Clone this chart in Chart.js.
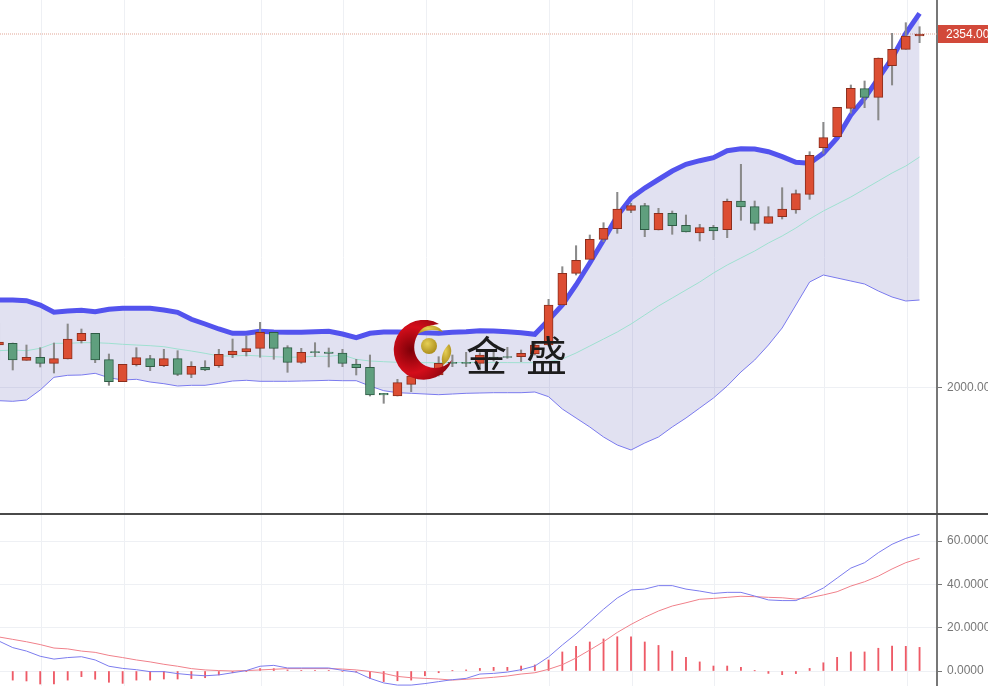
<!DOCTYPE html>
<html>
<head>
<meta charset="utf-8">
<title>K线</title>
<script src="https://cdn.jsdelivr.net/npm/chart.js@4"></script>
<style>
html,body{margin:0;padding:0;background:#fff;overflow:hidden}
#wrap{position:relative;width:988px;height:686px;overflow:hidden;filter:blur(.4px)}
canvas{position:absolute;left:0}
#price{top:0}
#macd{top:515px}
#line{position:absolute;left:0;top:513px;width:988px;height:2px;background:#4a4a4a}
#logo{position:absolute;left:393px;top:320px}
.word{position:absolute;top:329px;font:400 41px "Noto Sans CJK SC";line-height:48px;color:#1c1c1c}
</style>
</head>
<body>
<div id="wrap">
<canvas id="price" width="988" height="515"></canvas>
<canvas id="macd" width="988" height="171"></canvas>
<div id="line"></div>
<svg id="logo" width="60" height="60" viewBox="0 0 60 60">
<defs>
<radialGradient id="red" cx="30%" cy="50%" r="70%">
<stop offset="0" stop-color="#7d0008"/><stop offset=".55" stop-color="#d40d1a"/><stop offset="1" stop-color="#8e0610"/>
</radialGradient>
<radialGradient id="gold" cx="40%" cy="35%" r="70%">
<stop offset="0" stop-color="#e6cf55"/><stop offset="1" stop-color="#a98a18"/>
</radialGradient>
</defs>
<path d="M46,4 A30,30 0 1 0 59,40 C52,48 42,50 33,46 C22,41 18,28 24,16 C28,8 37,5 46,4 Z" fill="url(#red)"/>
<path d="M25,14 C31,3 44,3 50,12 C42,9 33,9 25,14 Z" fill="url(#gold)"/>
<path d="M56,24 C61,31 57,41 50,45 C47,38 50,30 56,24 Z" fill="url(#gold)"/>
<circle cx="36" cy="26" r="8" fill="url(#gold)"/>
</svg>
<div class="word" style="left:466px">金</div>
<div class="word" style="left:526px">盛</div>
</div>
<script>
var opens = [2043,2044.7,2027.7,2030.7,2024.7,2029,2047.3,2054.7,2028.3,2006.3,2023.3,2029.3,2022.3,2029.3,2013.7,2020.7,2022.3,2033.3,2036.3,2039.7,2055.7,2040.3,2025.7,2036.3,2036,2035,2024,2020.7,1994.7,1992,2003.7,2012,2013,2025.7,2025.7,2024.7,2031,2031.5,2031.3,2034,2043,2083,2114.7,2128.7,2148.7,2159.3,2177.7,2182.3,2158,2174.7,2162.7,2155,2160.7,2158.3,2187,2181.3,2164.7,2171.3,2178,2193.7,2240.3,2251.3,2279.7,2299.3,2290.7,2322.3,2338.7,2352];
var closes = [2046,2028,2030.7,2024.7,2029.3,2049,2054.7,2028,2006.3,2023.7,2030.3,2021.3,2029.3,2013.7,2021.7,2018,2033.7,2037,2039.3,2055.7,2039.7,2025.7,2035.7,2035.3,2034.7,2024.7,2020.3,1993,1993,2005.3,2012,2013,2024.7,2024.7,2024.7,2033,2030,2030.5,2034.7,2043,2083,2114.7,2127.7,2148.7,2159.7,2179,2182.3,2158.3,2174.7,2162.3,2156,2160.3,2157,2186.7,2181,2164.7,2171.3,2179,2194.3,2232.7,2250.3,2280.7,2299.7,2290.7,2330,2338.7,2352,2354];
var highs = [2065,2045,2043,2040.3,2045,2064,2059,2054.7,2034,2023.7,2040.3,2032.7,2038.7,2037.3,2026.3,2027.3,2038.7,2049,2052,2065.7,2055.7,2042.3,2039.7,2045.3,2040,2038.7,2028.7,2033,1994.7,2008.7,2015,2018,2031.3,2033,2035.7,2035.3,2036,2040.7,2038,2046,2088.7,2121.3,2142.3,2153,2165.3,2195.7,2184.7,2184.7,2179.7,2177,2173,2163.7,2162.7,2189,2223.7,2187,2181.3,2200.3,2198,2236.3,2265.7,2280.7,2303,2307,2330,2354.7,2365.3,2361.3];
var lows = [2028,2018,2027.7,2021,2015,2029,2045,2025.3,2002.7,2006.3,2022,2017.3,2021.3,2012.3,2010.3,2017.3,2020.7,2030.3,2032,2030.7,2028.7,2015.7,2024.7,2031.3,2021,2021.3,2013,1992,1984.7,1992,1996.3,2010,2012,2021.3,2021.3,2018,2027,2029.7,2026.3,2033,2042,2083,2113,2128.7,2146.3,2154.7,2175.3,2151.3,2158,2153.7,2156,2147,2148.3,2150.3,2167.7,2158,2164.7,2169,2174.7,2188.7,2234.7,2251.3,2274.7,2280.3,2268,2303,2338.7,2345.3];

var upperBand = [2088,2088,2087.3,2083,2075.7,2077,2077.7,2076.3,2078.7,2079.7,2079.7,2079.7,2078,2075.7,2068.7,2064,2059,2054.7,2054.7,2056.7,2056,2055.7,2055.7,2056.3,2056.7,2054,2050.3,2054.7,2056,2056,2055.7,2055.3,2054.7,2055.7,2056.3,2057.3,2057,2056.3,2055.3,2053.7,2068,2083,2103,2125,2148,2172,2190,2200,2208.5,2217,2223.7,2227.3,2230.3,2237.3,2239.3,2239,2236.3,2231.3,2225.7,2224.7,2234.7,2250,2273,2289.7,2309.7,2329.7,2354.7,2374.7];
var midBand = [2037.3,2038,2037.3,2039.7,2044.7,2044.7,2045.3,2045.3,2044.7,2043.7,2043,2042.3,2041.3,2039,2037,2034.7,2032,2032,2032.7,2032,2031.3,2030.7,2031,2031.7,2031.7,2033,2028.7,2027,2026.3,2025.7,2025.3,2025.3,2025.3,2025.5,2025.5,2025.5,2025.5,2025.4,2025.3,2025.3,2026.3,2029,2035,2042,2049,2056,2064,2073,2082,2090,2098,2106,2115,2123,2130,2137,2145,2152,2160,2169,2177,2184,2191,2199,2207,2215,2222,2231];
var lowerBand = [1987.3,1986.7,1988,1998,2010.7,2012.7,2013,2014.7,2010.3,2008,2008.7,2006,2004.3,2002,2002.7,2002.7,2004.7,2007,2007.7,2006.7,2006.7,2006.7,2007,2007.3,2007.7,2007.3,2007.3,2002,1997.3,1995.3,1994.7,1994,1993.3,1994,1994.7,1995,1995.3,1995.3,1995.3,1996,1991.3,1979,1970,1961,1951,1943,1938,1945,1951,1961,1970,1980,1990,2002,2016,2028,2043,2060,2083,2106,2113,2110,2107,2104,2097,2091,2087,2088];

var dif = [13.8,10.8,9.2,6.8,5.5,6.2,6.6,5.1,2.2,1.2,0.6,-0.3,-0.3,-1.2,-1.8,-2.2,-1.8,-0.8,0.2,2.2,2.6,1.4,1.4,1.4,1.4,0.3,-0.5,-3.4,-5.5,-6.5,-6.5,-5.8,-4.9,-4,-3.4,-1.4,-1.1,-0.5,0.6,2.3,6.5,12,17.1,22.8,28.5,33.7,37.4,37.8,39.4,39.4,37.8,36.9,35.8,36.3,36.3,34.6,32.8,32.5,32.5,35.2,38.3,42.9,47.5,50,54.6,58.5,61.2,63.1];
var dea = [15.7,14.6,13.5,12.2,10.6,10.2,9.2,8.6,7.2,6.2,5.1,4.2,3.1,2.2,1.1,0.5,0.2,0,0.2,0.5,0.8,1.1,1.1,1.1,1.1,0.9,0.5,-0.2,-1.1,-2.5,-3.1,-3.4,-3.7,-4.2,-3.8,-3.4,-2.9,-2.3,-1.4,-0.8,0.8,2.9,6,9.7,13.5,17.8,21.5,24.8,27.7,30,31.5,33.1,33.5,34,34.5,34.3,34,33.8,33.2,33.8,35.1,36.6,39.2,41.2,43.8,47.1,50,52];
var hist = [-2.3,-4.2,-4.6,-6,-6,-4.2,-2.6,-3.8,-5.2,-5.7,-4.2,-4.2,-3.7,-3.7,-3.5,-3.1,-1.8,-0.8,-0.3,1.1,1.1,0.5,0.3,0.3,0.3,-0.2,-0.5,-3.4,-4.9,-4.5,-4.2,-2.2,-0.8,0.1,0.5,1.2,1.7,1.7,2.3,2.8,5.1,8.8,11.4,13.4,14.8,15.8,15.8,13.4,11.8,9.2,6.3,4.2,2.3,2.3,1.7,0.1,-1.1,-1.7,-1.2,1.2,3.8,6.3,8.8,8.8,10.5,11.5,11.4,10.9];

var lastPrice = 2354;
var priceTicks = [2000];
var macdTicks = [60, 40, 20, 0];
var gridIndexes = [3.1, 9.1, 19.1, 25.1, 31.1, 40.1, 46.1, 52.1, 60.1, 66.1];

var xMin = 0.073, xMax = 68.27;
var axisColor = '#777', gridColor = '#eef0f4';

Chart.defaults.font.family = 'Arial, "Liberation Sans", sans-serif';
Chart.defaults.font.size = 12;

function pts(arr) {
    return arr.map(function (v, i) { return {x: i, y: v}; });
}
function pairs(a, b) {
    return a.map(function (v, i) { return {x: i, y: [v, b[i]]}; });
}
function noPadding(a) {
    a.paddingTop = a.paddingBottom = a.paddingLeft = a.paddingRight = 0;
}

function xAxis() {
    return {
        type: 'linear', min: xMin, max: xMax, offset: false,
        grid: {color: gridColor, drawTicks: false, offset: false},
        border: {display: false},
        ticks: {display: false},
        afterBuildTicks: function (a) {
            a.ticks = gridIndexes.map(function (v) { return {value: v}; });
        },
        afterFit: function (a) { noPadding(a); a.height = 0; }
    };
}
function yAxis(min, max, list, digits) {
    return {
        position: 'right', min: min, max: max,
        grid: {color: gridColor, tickColor: axisColor, tickLength: 5},
        border: {color: axisColor, width: 2},
        ticks: {
            color: axisColor, padding: 5, autoSkip: false,
            callback: function (v) { return Number(v).toFixed(digits); }
        },
        afterBuildTicks: function (a) {
            a.ticks = list.map(function (v) { return {value: v}; });
        },
        afterFit: function (a) { noPadding(a); a.width = 51; }
    };
}

var red = '#dc4e33', redEdge = '#8b2e1d', green = '#5f9f7e', greenEdge = '#2e5c45';

// price tag on the right axis
var priceTag = {
    id: 'priceTag',
    afterDraw: function (chart) {
        var y = chart.scales.y.getPixelForValue(lastPrice);
        var c = chart.ctx;
        c.save();
        c.fillStyle = '#d2493a';
        c.fillRect(938, y - 9, 50, 18);
        c.fillStyle = '#fff';
        c.font = '12px Arial, "Liberation Sans", sans-serif';
        c.textBaseline = 'middle';
        c.fillText(lastPrice.toFixed(2), 946, y + 0.5);
        c.restore();
    }
};

new Chart(document.getElementById('price').getContext('2d'), {
    type: 'bar',
    plugins: [priceTag],
    data: {
        datasets: [{
            label: 'body',
            data: pairs(opens, closes),
            backgroundColor: opens.map(function (o, i) { return closes[i] >= o ? red : green; }),
            borderColor: opens.map(function (o, i) { return closes[i] >= o ? redEdge : greenEdge; }),
            borderWidth: 1, borderSkipped: false, barThickness: 9, grouped: false, order: 0
        }, {
            label: 'wick',
            data: pairs(lows, highs),
            backgroundColor: '#8a8a8a',
            barThickness: 1.4, grouped: false, order: 1
        }, {
            type: 'line', label: 'upper', data: pts(upperBand),
            borderColor: '#5353ee', borderWidth: 5, pointRadius: 0, tension: 0, order: 2
        }, {
            type: 'line', label: 'mid', data: pts(midBand),
            borderColor: '#9ee0d0', borderWidth: 1, pointRadius: 0, tension: 0, order: 3
        }, {
            type: 'line', label: 'lower', data: pts(lowerBand),
            borderColor: '#7a7aee', borderWidth: 1, pointRadius: 0, tension: 0, order: 4,
            fill: {target: 2}, backgroundColor: 'rgba(80,80,170,0.17)'
        }, {
            type: 'line', label: 'last',
            data: [{x: xMin, y: lastPrice}, {x: xMax, y: lastPrice}],
            borderColor: '#e2a596', borderWidth: 1, borderDash: [1, 1], pointRadius: 0, order: 5
        }]
    },
    options: {
        responsive: false, animation: false,
        layout: {padding: 0},
        plugins: {legend: {display: false}, tooltip: {enabled: false}},
        scales: {x: xAxis(), y: yAxis(1873, 2388, priceTicks, 2)}
    }
});

new Chart(document.getElementById('macd').getContext('2d'), {
    type: 'bar',
    data: {
        datasets: [{
            label: 'macd',
            data: pts(hist),
            backgroundColor: '#ee5a66',
            barThickness: 1.2, grouped: false, order: 2
        }, {
            type: 'line', label: 'dif', data: pts(dif),
            borderColor: '#7c7cee', borderWidth: 1, pointRadius: 0, tension: 0, order: 0
        }, {
            type: 'line', label: 'dea', data: pts(dea),
            borderColor: '#f0808a', borderWidth: 1, pointRadius: 0, tension: 0, order: 1
        }]
    },
    options: {
        responsive: false, animation: false,
        layout: {padding: 0},
        plugins: {legend: {display: false}, tooltip: {enabled: false}},
        scales: {x: xAxis(), y: yAxis(-6.92, 72, macdTicks, 4)}
    }
});
</script>
</body>
</html>
